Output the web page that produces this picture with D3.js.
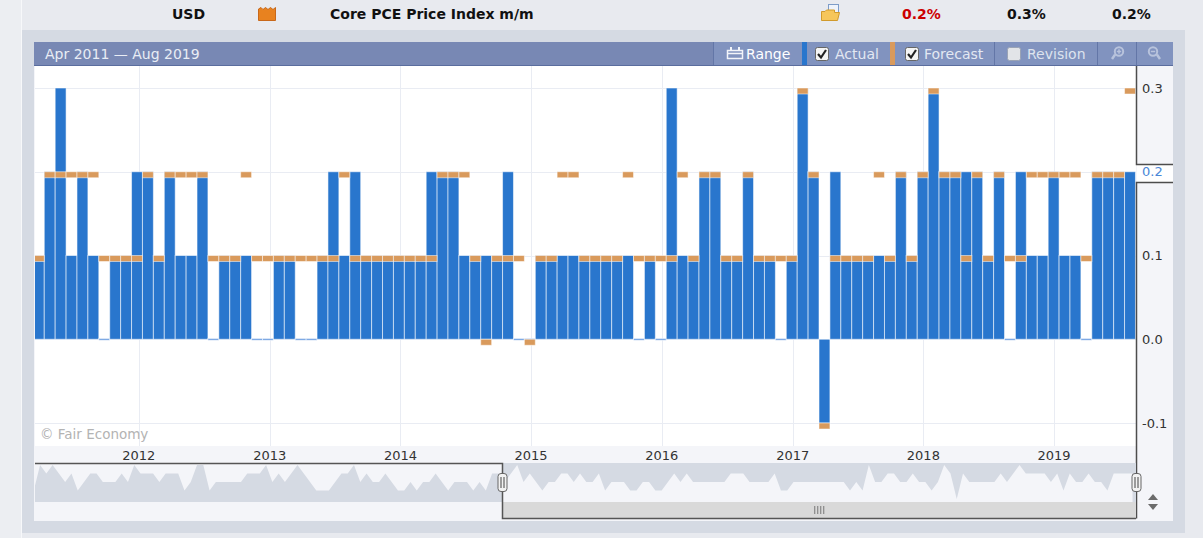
<!DOCTYPE html>
<html>
<head>
<meta charset="utf-8">
<script src="https://d3js.org/d3.v7.min.js"></script>
<style>
body { margin: 0; background: #e8eaef; }
svg { display: block; font-family: "DejaVu Sans", Verdana, sans-serif; }
</style>
</head>
<body>
<div id="chart"></div>
<script>
var width = 1203, height = 538;

// data (release months Apr 2011 - Aug 2019)
var months = d3.timeMonth.range(new Date(2011, 3, 1), new Date(2019, 8, 1));
var actual = [
  0.1, 0.2, 0.3, 0.1, 0.2, 0.1, 0.0, 0.1, 0.1, 0.2,
  0.2, 0.1, 0.2, 0.1, 0.1, 0.2, 0.0, 0.1, 0.1, 0.1,
  0.0, 0.0, 0.1, 0.1, 0.0, 0.0, 0.1, 0.2, 0.1, 0.2,
  0.1, 0.1, 0.1, 0.1, 0.1, 0.1, 0.2, 0.2, 0.2, 0.1,
  0.1, 0.1, 0.1, 0.2, 0.0, 0.0, 0.1, 0.1, 0.1, 0.1,
  0.1, 0.1, 0.1, 0.1, 0.1, 0.0, 0.1, 0.0, 0.3, 0.1,
  0.1, 0.2, 0.2, 0.1, 0.1, 0.2, 0.1, 0.1, 0.0, 0.1,
  0.3, 0.2, -0.1, 0.2, 0.1, 0.1, 0.1, 0.1, 0.1, 0.2,
  0.1, 0.2, 0.3, 0.2, 0.2, 0.2, 0.2, 0.1, 0.2, 0.0,
  0.2, 0.1, 0.1, 0.2, 0.1, 0.1, 0.0, 0.2, 0.2, 0.2,
  0.2];
var forecast = [
  0.1, 0.2, 0.2, 0.2, 0.2, 0.2, 0.1, 0.1, 0.1, 0.1,
  0.2, 0.1, 0.2, 0.2, 0.2, 0.2, 0.1, 0.1, 0.1, 0.2,
  0.1, 0.1, 0.1, 0.1, 0.1, 0.1, 0.1, 0.1, 0.2, 0.1,
  0.1, 0.1, 0.1, 0.1, 0.1, 0.1, 0.1, 0.2, 0.2, 0.2,
  0.1, 0.0, 0.1, 0.1, 0.1, 0.0, 0.1, 0.1, 0.2, 0.2,
  0.1, 0.1, 0.1, 0.1, 0.2, 0.1, 0.1, 0.1, 0.1, 0.2,
  0.1, 0.2, 0.2, 0.1, 0.1, 0.2, 0.1, 0.1, 0.1, 0.1,
  0.3, 0.2, -0.1, 0.1, 0.1, 0.1, 0.1, 0.2, 0.1, 0.2,
  0.1, 0.2, 0.3, 0.2, 0.2, 0.1, 0.2, 0.1, 0.2, 0.1,
  0.1, 0.2, 0.2, 0.2, 0.2, 0.2, 0.1, 0.2, 0.2, 0.2,
  0.3];
// older values, only drawn in the navigator (Jan 2005 - Mar 2011)
var olderValues = [
  0.0,
  0.3, 0.2, 0.3, 0.2, 0.1, 0.2, 0.0, 0.1, 0.2, 0.2,
  0.1, 0.1, 0.1, 0.2, 0.1, 0.3, 0.2, 0.2, 0.2, 0.1,
  0.2, 0.2, 0.2, 0.0, 0.1, 0.3, 0.3, 0.0, 0.1, 0.1,
  0.1, 0.1, 0.1, 0.2, 0.2, 0.2, 0.3, 0.1, 0.2, 0.1,
  0.2, 0.3, 0.2, 0.1, 0.0, 0.0, 0.0, 0.1, 0.2, 0.2,
  0.3, 0.1, 0.2, 0.1, 0.1, 0.2, 0.1, 0.0, 0.0, 0.1,
  0.0, 0.1, 0.1, 0.2, 0.1, 0.0, 0.1, 0.1, 0.1, 0.0,
  0.1, 0.0, 0.2, 0.2];
var yTicks = [-0.1, 0.0, 0.1, 0.2, 0.3];
var yLabels = [-0.1, 0.0, 0.1, 0.3];
var currentValue = 0.2;
var years = [2012, 2013, 2014, 2015, 2016, 2017, 2018, 2019];
var currency = "USD";
var eventTitle = "Core PCE Price Index m/m";
var actualText = "0.2%", forecastText = "0.3%", previousText = "0.2%";
var rangeText = "Apr 2011 \u2014 Aug 2019";

var blue = "#2976cd", orange = "#d99a5c";
function fmt(v) { return v.toFixed(1); }

var svg = d3.select("#chart").append("svg")
    .attr("width", width)
    .attr("height", height);

// page / header row
svg.append("rect").attr("width", width).attr("height", height).attr("fill", "#e8eaef");
svg.append("rect").attr("width", 21).attr("height", height).attr("fill", "#eceef2");
svg.append("line").attr("x1", 21.5).attr("x2", 21.5).attr("y1", 0).attr("y2", height)
    .attr("stroke", "#f7f8fa");

var head = svg.append("g").attr("font-weight", "bold").attr("font-size", "14px");
head.append("text").text(currency).attr("x", 172).attr("y", 19).attr("fill", "#111");
head.append("text").text(eventTitle).attr("x", 330).attr("y", 19).attr("fill", "#111");
head.append("text").text(actualText).attr("x", 902).attr("y", 19).attr("fill", "#cc0000");
head.append("text").text(forecastText).attr("x", 1007).attr("y", 19).attr("fill", "#111");
head.append("text").text(previousText).attr("x", 1112).attr("y", 19).attr("fill", "#111");

// impact icon
svg.append("path")
    .attr("d", "M258.5,20.5V9L261,7.5L263,9.5L265.5,7.5L268,9.5L270.5,7.5L273,9.5L275.5,7.5V20.5Z")
    .attr("fill", "#e8821f").attr("stroke", "#c8681a");
// detail folder icon
svg.append("rect").attr("x", 828.5).attr("y", 4.5).attr("width", 10).attr("height", 12)
    .attr("fill", "#eef3fb").attr("stroke", "#7d9cc8");
svg.append("path")
    .attr("d", "M821.5,20.5V11.5H825L826.5,10H834.5V12.5H839.5L837.5,20.5Z")
    .attr("fill", "#f6c65a").attr("stroke", "#d19a2c");

// container
svg.append("rect").attr("x", 22).attr("y", 30).attr("width", 1163).attr("height", 503)
    .attr("fill", "#d5dae3");
svg.append("rect").attr("x", 34).attr("y", 66).attr("width", 1139).attr("height", 455)
    .attr("fill", "#f4f5f9");

// title bar
var bar = svg.append("g");
bar.append("rect").attr("x", 34).attr("y", 42).attr("width", 1139).attr("height", 24)
    .attr("fill", "#7888b4");
bar.append("rect").attr("x", 713).attr("y", 42).attr("width", 460).attr("height", 24)
    .attr("fill", "#8193bf");
bar.append("line").attr("x1", 34).attr("x2", 1173).attr("y1", 65.5).attr("y2", 65.5)
    .attr("stroke", "#5a6d9e");
[713.5, 994.5, 1097.5, 1136.5].forEach(function(sx) {
  bar.append("line").attr("x1", sx).attr("x2", sx).attr("y1", 42).attr("y2", 65)
      .attr("stroke", "#6376a7");
});
bar.append("rect").attr("x", 802).attr("y", 42).attr("width", 5).attr("height", 23).attr("fill", blue);
bar.append("rect").attr("x", 890).attr("y", 42).attr("width", 5).attr("height", 23).attr("fill", orange);

var barText = bar.append("g").attr("font-size", "14px");
barText.append("text").text(rangeText).attr("x", 45).attr("y", 59).attr("fill", "#e9edf5");
barText.append("text").text("Range").attr("x", 746).attr("y", 59).attr("fill", "#ffffff");
barText.append("text").text("Actual").attr("x", 835).attr("y", 59).attr("fill", "#e3e8f2");
barText.append("text").text("Forecast").attr("x", 924).attr("y", 59).attr("fill", "#e3e8f2");
barText.append("text").text("Revision").attr("x", 1027).attr("y", 59).attr("fill", "#dde3ee");

// calendar icon
bar.append("rect").attr("x", 727.5).attr("y", 50.5).attr("width", 15).attr("height", 8)
    .attr("fill", "none").attr("stroke", "#f2f4f9").attr("stroke-width", 1.5);
bar.append("line").attr("x1", 727.5).attr("x2", 742.5).attr("y1", 53.5).attr("y2", 53.5)
    .attr("stroke", "#f2f4f9").attr("stroke-width", 1.5);
[731, 739].forEach(function(cx) {
  bar.append("line").attr("x1", cx).attr("x2", cx).attr("y1", 47).attr("y2", 51)
      .attr("stroke", "#f2f4f9").attr("stroke-width", 2);
});

// checkboxes
function checkbox(bx, checked) {
  bar.append("rect").attr("x", bx + 0.5).attr("y", 47.5).attr("width", 13).attr("height", 13)
      .attr("rx", 2)
      .attr("fill", checked ? "#f4f4f4" : "#e2e4e8")
      .attr("stroke", checked ? "#666" : "#9aa3b5");
  if (checked) {
    bar.append("path").attr("d", "M" + (bx + 3) + ",54 L" + (bx + 6) + ",57.5 L" + (bx + 11) + ",50")
        .attr("fill", "none").attr("stroke", "#222").attr("stroke-width", 2.2);
  }
}
checkbox(815, true);
checkbox(905, true);
checkbox(1007, false);

// zoom icons
function magnifier(cx, hx, plus) {
  bar.append("circle").attr("cx", cx).attr("cy", 51.5).attr("r", 4.2)
      .attr("fill", "none").attr("stroke", "#b8c3dc").attr("stroke-width", 2);
  bar.append("line").attr("x1", cx + (hx - cx) * 0.55).attr("y1", 54.5).attr("x2", hx).attr("y2", 59)
      .attr("stroke", "#b8c3dc").attr("stroke-width", 2.5);
  bar.append("line").attr("x1", cx - 2.2).attr("x2", cx + 2.2).attr("y1", 51.5).attr("y2", 51.5)
      .attr("stroke", "#b8c3dc").attr("stroke-width", 1.5);
  if (plus) {
    bar.append("line").attr("x1", cx).attr("x2", cx).attr("y1", 49.3).attr("y2", 53.7)
        .attr("stroke", "#b8c3dc").attr("stroke-width", 1.5);
  }
}
magnifier(1119, 1112, true);
magnifier(1153, 1160, false);

// scales
var plotL = 35, plotR = 1136, plotT = 66, plotB = 446;
var x = d3.scaleBand()
    .domain(months)
    .range([33.34, 1135.46])
    .padding(0);
var xTime = d3.scaleTime()
    .domain([new Date(2011, 2, 17), new Date(2019, 7, 18)])
    .range([plotL, plotR]);
var y = d3.scaleLinear()
    .domain([-0.1, 0.3])
    .range([423, 88]);

// plot area
svg.append("rect").attr("x", plotL).attr("y", plotT).attr("width", plotR - plotL).attr("height", plotB - plotT)
    .attr("fill", "#ffffff");
svg.append("clipPath").attr("id", "plotclip")
    .append("rect").attr("x", plotL).attr("y", plotT).attr("width", plotR - plotL).attr("height", plotB - plotT);

var grid = svg.append("g").attr("stroke", "#e9ecf3").attr("stroke-width", 1);
grid.selectAll("line.h").data(yTicks).enter().append("line")
    .attr("class", "h")
    .attr("x1", plotL).attr("x2", plotR)
    .attr("y1", function(d) { return Math.round(y(d)) + 0.5; })
    .attr("y2", function(d) { return Math.round(y(d)) + 0.5; });
grid.selectAll("line.v").data(years).enter().append("line")
    .attr("class", "v")
    .attr("y1", plotT).attr("y2", plotB)
    .attr("x1", function(d) { return Math.round(xTime(new Date(d, 0, 1))) + 0.5; })
    .attr("x2", function(d) { return Math.round(xTime(new Date(d, 0, 1))) + 0.5; });

svg.append("text").text("\u00a9 Fair Economy")
    .attr("x", 40).attr("y", 439)
    .attr("font-size", "13.5px")
    .attr("fill", "#b3b3b3");

var marks = svg.append("g").attr("clip-path", "url(#plotclip)");
var pts = months.map(function(m, i) { return {m: m, a: actual[i], f: forecast[i]}; });

marks.selectAll("rect.actual").data(pts).enter().append("rect")
    .attr("class", "actual")
    .attr("x", function(d) { return x(d.m); })
    .attr("width", x.step())
    .attr("y", function(d) { return d.a === 0 ? y(0) - 0.8 : Math.min(y(d.a), y(0)); })
    .attr("height", function(d) { return d.a === 0 ? 1.8 : Math.abs(y(d.a) - y(0)); })
    .attr("fill", function(d) { return d.a === 0 ? "#6b9de0" : blue; })
    .attr("stroke", "rgba(255,255,255,0.55)")
    .attr("stroke-width", 1);

marks.selectAll("rect.forecast").data(pts).enter().append("rect")
    .attr("class", "forecast")
    .attr("x", function(d) { return x(d.m); })
    .attr("width", x.step())
    .attr("y", function(d) { return y(d.f); })
    .attr("height", 6)
    .attr("fill", orange)
    .attr("stroke", "rgba(255,255,255,0.5)")
    .attr("stroke-width", 1);

// x axis years
svg.selectAll("text.year").data(years).enter().append("text")
    .attr("class", "year")
    .text(function(d) { return d; })
    .attr("x", function(d) { return xTime(new Date(d, 0, 1)); })
    .attr("y", 460)
    .attr("text-anchor", "middle")
    .attr("font-size", "13px")
    .attr("fill", "#333");

// y axis labels
svg.selectAll("text.ylab").data(yLabels).enter().append("text")
    .attr("class", "ylab")
    .text(function(d) { return fmt(d); })
    .attr("x", 1142)
    .attr("y", function(d) { return y(d); })
    .attr("dy", "0.36em")
    .attr("font-size", "13px")
    .attr("fill", "#333");

// current value tag
var tagT = Math.round(y(currentValue)) - 8, tagB = tagT + 18;
svg.append("rect").attr("x", 1137).attr("y", tagT).attr("width", 36).attr("height", 18)
    .attr("fill", "#ffffff");
svg.append("text").text(fmt(currentValue))
    .attr("x", 1142).attr("y", y(currentValue)).attr("dy", "0.36em")
    .attr("font-size", "13px").attr("fill", "#4a87d8");
svg.append("path")
    .attr("d", "M1136.5,66V" + (tagT + 0.5) + "H1173M1173," + (tagB + 0.5) + "H1136.5V518.5")
    .attr("fill", "none").attr("stroke", "#4d4d4d").attr("stroke-width", 1.5);

// navigator
var navT = 463, navB = 502, navS = 518, handleX = 502.5;
var c0 = x(months[0]) + x.step() / 2;
function idxAt(px) { return (px - c0) / x.step(); }
var navX = d3.scaleLinear().domain([idxAt(plotL), idxAt(plotR)]).range([handleX, plotR]);
var navY = d3.scaleLinear().domain([-0.1, 0.3]).range([499, 465]);

var navData = olderValues.map(function(v, i) { return {i: i - olderValues.length, v: v}; })
    .concat(actual.map(function(v, i) { return {i: i, v: v}; }));
var navArea = d3.area()
    .x(function(d) { return navX(d.i); })
    .y0(navB)
    .y1(function(d) { return navY(d.v); });

svg.append("clipPath").attr("id", "navleft")
    .append("rect").attr("x", plotL).attr("y", navT).attr("width", handleX - plotL).attr("height", navB - navT);
svg.append("clipPath").attr("id", "navright")
    .append("rect").attr("x", handleX).attr("y", navT).attr("width", plotR - handleX).attr("height", navB - navT);

svg.append("path").datum(navData)
    .attr("d", navArea)
    .attr("fill", "#d5dae3")
    .attr("clip-path", "url(#navleft)");
svg.append("rect").attr("x", handleX).attr("y", navT).attr("width", plotR - handleX).attr("height", navB - navT)
    .attr("fill", "#d5dae3");
svg.append("path").datum(navData)
    .attr("d", navArea)
    .attr("fill", "#f4f5f9")
    .attr("clip-path", "url(#navright)");

// scrollbar
svg.append("rect").attr("x", handleX).attr("y", navB).attr("width", plotR - handleX).attr("height", navS - navB)
    .attr("fill", "#d9d9d9");
var gripX = (handleX + plotR) / 2;
[-4.5, -1.5, 1.5, 4.5].forEach(function(o) {
  svg.append("line").attr("x1", gripX + o).attr("x2", gripX + o).attr("y1", 506).attr("y2", 514)
      .attr("stroke", "#777").attr("stroke-width", 1);
});

svg.append("path")
    .attr("d", "M" + plotL + "," + (navT + 0.5) + "H" + handleX + "V" + (navS + 0.5) + "H" + plotR)
    .attr("fill", "none").attr("stroke", "#555").attr("stroke-width", 1.5);

function handle(hx) {
  svg.append("rect").attr("x", hx - 4.5).attr("y", 473.5).attr("width", 9).attr("height", 18)
      .attr("rx", 3)
      .attr("fill", "#f2f2f2").attr("stroke", "#666").attr("stroke-width", 1);
  [-1.5, 1.5].forEach(function(o) {
    svg.append("line").attr("x1", hx + o).attr("x2", hx + o).attr("y1", 477).attr("y2", 488)
        .attr("stroke", "#444").attr("stroke-width", 1);
  });
}
handle(handleX);
handle(plotR + 0.5);

// up/down arrows
svg.append("path").attr("d", "M1148,500L1153,494L1158,500Z").attr("fill", "#6b6b6b");
svg.append("path").attr("d", "M1148,504L1153,510L1158,504Z").attr("fill", "#6b6b6b");
</script>
</body>
</html>
